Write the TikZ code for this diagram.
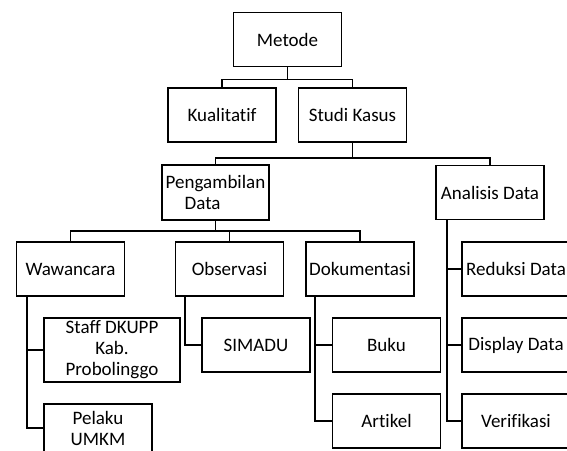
\documentclass[tikz,border=0pt]{standalone}
\usepackage{fontspec}
\setmainfont[Ligatures=NoCommon]{Carlito}
\begin{document}
\begin{tikzpicture}[x=1pt,y=-1pt,line width=1.6pt,
  kotak/.style={draw,minimum width=108pt,minimum height=54pt,inner sep=0pt,align=center,font=\fontsize{19}{21}\selectfont}]
\useasboundingbox (0,0) rectangle (567,450);
\foreach \nm/\x/\y/\txt in {metode/287.5/39.5/Metode,kual/222/115/Kualitatif,studi/352.5/115/Studi Kasus,
  anal/490/192.5/Analisis Data,waw/70.5/269/Wawancara,obs/229.5/269/Observasi,dok/360/269/Dokumentasi,
  simadu/256/345/SIMADU,buku/386.5/345/Buku,artikel/386.5/421/Artikel,
  reduksi/516/269/Reduksi Data,display/516/345/Display Data,verif/516/421/Verifikasi}
{
    \node[kotak] (\nm) at (\x,\y) {\txt};
}
\node[kotak,minimum width=107pt,minimum height=55pt,align=left] (peng) at (215.5,192.5) {Pengambilan\\\hspace*{19pt}Data};
\node[kotak,minimum width=136pt,minimum height=64pt] (staff) at (112,350) {Staff DKUPP\\Kab.\\Probolinggo};
\node[kotak,minimum height=48pt] (pelaku) at (98,428) {Pelaku\\UMKM};
% cabang
\draw (metode.south) -- ++(0,12) -| (kual.north);
\draw (metode.south) -- ++(0,12) -| (studi.north);
\draw (studi.south) -- ++(0,15) -| (peng.north);
\draw (studi.south) -- ++(0,15) -| (anal.north);
\foreach \ch in {waw,obs,dok}
{
    \draw (peng.south) -- ++(0,10) -| (\ch.north);
}
\foreach \ch in {staff,pelaku}
{
    \draw ([xshift=11pt]waw.south west) |- (\ch.west);
}
\draw ([xshift=10pt]obs.south west) |- (simadu.west);
\foreach \ch in {buku,artikel}
{
    \draw ([xshift=10pt]dok.south west) |- (\ch.west);
}
\foreach \ch in {reduksi,display,verif}
{
    \draw ([xshift=12pt]anal.south west) |- (\ch.west);
}
\end{tikzpicture}
\end{document}
